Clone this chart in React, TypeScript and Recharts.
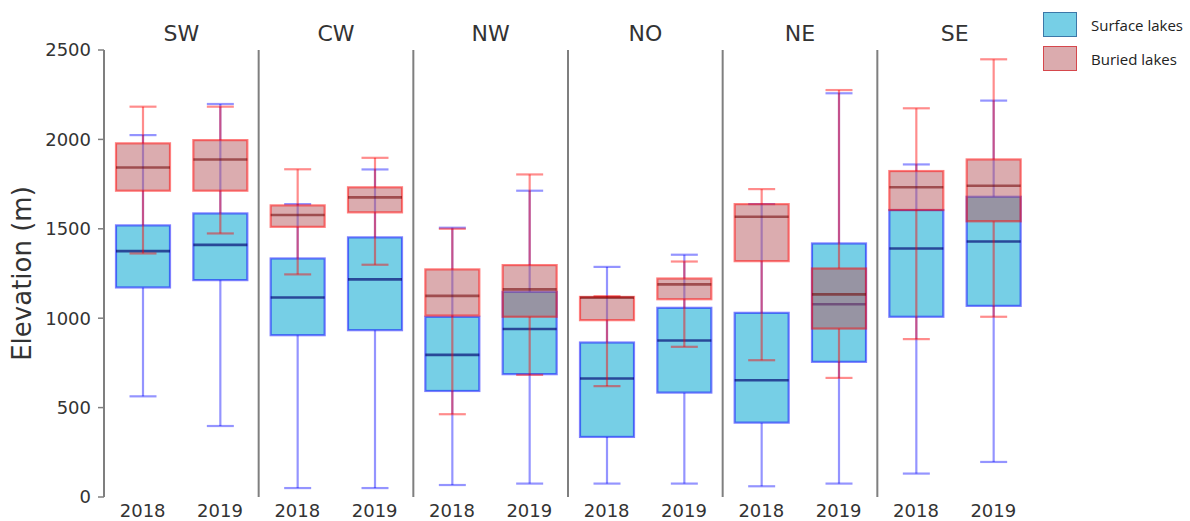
import React from 'react';
import { ComposedChart, Bar, XAxis, YAxis, ReferenceLine } from 'recharts';

const regions = ['SW', 'CW', 'NW', 'NO', 'NE', 'SE'];
const years = ['2018', '2019'];
const yTicks = [0, 500, 1000, 1500, 2000, 2500];
const dividers = [2, 4, 6, 8, 10];

// Surface lakes (order: SW18, SW19, CW18, CW19, NW18, NW19, NO18, NO19, NE18, NE19, SE18, SE19)
const surfaceMin = [563, 397, 50, 50, 67, 75, 75, 75, 60, 75, 131, 196];
const surfaceQ1 = [1172, 1213, 905, 933, 593, 687, 336, 584, 416, 756, 1008, 1069];
const surfaceMed = [1375, 1410, 1116, 1217, 795, 940, 663, 875, 653, 1078, 1390, 1429];
const surfaceQ3 = [1519, 1586, 1334, 1452, 1008, 1147, 864, 1058, 1030, 1418, 1605, 1679];
const surfaceMax = [2024, 2198, 1638, 1832, 1506, 1713, 1287, 1355, 1638, 2258, 1860, 2217];

// Buried lakes
const buriedMin = [1362, 1474, 1245, 1299, 463, 683, 620, 840, 765, 666, 883, 1008];
const buriedQ1 = [1713, 1713, 1511, 1592, 1015, 1008, 989, 1106, 1319, 942, 1605, 1542];
const buriedMed = [1843, 1888, 1577, 1676, 1125, 1161, 1115, 1189, 1567, 1133, 1732, 1741];
const buriedQ3 = [1978, 1996, 1631, 1732, 1273, 1297, 1119, 1222, 1638, 1278, 1823, 1888];
const buriedMax = [2183, 2183, 1833, 1897, 1500, 1804, 1123, 1317, 1722, 2276, 2174, 2448];

type Stats = { min: number; q1: number; med: number; q3: number; max: number };

const data = regions.flatMap((region, ri) =>
  years.map((year, yi) => {
    const i = ri * 2 + yi;
    const surface: Stats = { min: surfaceMin[i], q1: surfaceQ1[i], med: surfaceMed[i], q3: surfaceQ3[i], max: surfaceMax[i] };
    const buried: Stats = { min: buriedMin[i], q1: buriedQ1[i], med: buriedMed[i], q3: buriedQ3[i], max: buriedMax[i] };
    return {
      x: i + 0.5,
      region,
      year,
      surface,
      buried,
      surfaceRange: [surfaceMin[i], surfaceMax[i]],
      buriedRange: [buriedMin[i], buriedMax[i]],
    };
  })
);

const bottomTicks = data.map((d) => d.x);
const topTicks = regions.map((_, i) => i * 2 + 1);

type Style = { fill: string; edge: string; whisker: string; median: string };

const surfaceStyle: Style = {
  fill: '#76CFE6',
  edge: 'rgba(0,0,255,0.5)',
  whisker: 'rgba(0,0,255,0.42)',
  median: 'rgba(0,0,110,0.65)',
};
const buriedStyle: Style = {
  fill: 'rgba(183,89,95,0.5)',
  edge: 'rgba(255,0,0,0.5)',
  whisker: 'rgba(255,0,0,0.45)',
  median: 'rgba(110,0,0,0.55)',
};

function makeShape(kind: 'surface' | 'buried', st: Style) {
  return (props: any) => {
    const { x, y, width, height, payload } = props;
    const s: Stats = payload[kind];
    const top = Math.min(y, y + height);
    const bot = Math.max(y, y + height);
    const span = s.max - s.min || 1;
    const py = (v: number) => top + ((s.max - v) / span) * (bot - top);
    const cx = x + width / 2;
    const capW = width / 2;
    const sw = 2.2;
    return (
      <g>
        <line x1={cx} x2={cx} y1={py(s.max)} y2={py(s.q3)} stroke={st.whisker} strokeWidth={sw} />
        <line x1={cx} x2={cx} y1={py(s.q1)} y2={py(s.min)} stroke={st.whisker} strokeWidth={sw} />
        <line x1={cx - capW / 2} x2={cx + capW / 2} y1={py(s.max)} y2={py(s.max)} stroke={st.whisker} strokeWidth={sw} />
        <line x1={cx - capW / 2} x2={cx + capW / 2} y1={py(s.min)} y2={py(s.min)} stroke={st.whisker} strokeWidth={sw} />
        <rect x={x} y={py(s.q3)} width={width} height={py(s.q1) - py(s.q3)} fill={st.fill} stroke={st.edge} strokeWidth={sw} />
        <line x1={x} x2={x + width} y1={py(s.med)} y2={py(s.med)} stroke={st.median} strokeWidth={2.6} />
      </g>
    );
  };
}

const surfaceShape = makeShape('surface', surfaceStyle);
const buriedShape = makeShape('buried', buriedStyle);

const font = 'DejaVu Sans, sans-serif';
const axisGray = '#7f7f7f';

export default function App() {
  return (
    <div style={{ position: 'absolute', left: 0, top: 0, width: 1190, height: 521, background: '#fff', fontFamily: font }}>
      <ComposedChart width={1190} height={521} data={data} margin={{ top: 0, right: 158, bottom: 0, left: 0 }}>
        <XAxis
          xAxisId="yr"
          type="number"
          dataKey="x"
          domain={[0, 12]}
          ticks={bottomTicks}
          interval={0}
          tickFormatter={(v: number) => years[Math.floor(v) % 2]}
          height={24}
          axisLine={false}
          tickLine={false}
          tickMargin={1}
          tick={{ fontSize: 18, fill: '#333', fontFamily: font }}
        />
        <XAxis
          xAxisId="reg"
          orientation="top"
          type="number"
          dataKey="x"
          domain={[0, 12]}
          ticks={topTicks}
          interval={0}
          tickFormatter={(v: number) => regions[Math.round((v - 1) / 2)]}
          height={50}
          axisLine={false}
          tickLine={false}
          tickMargin={3}
          tick={{ fontSize: 22, fill: '#333', fontFamily: font }}
        />
        <YAxis
          domain={[0, 2500]}
          ticks={yTicks}
          interval={0}
          width={104}
          axisLine={{ stroke: axisGray, strokeWidth: 2 }}
          tickLine={{ stroke: axisGray, strokeWidth: 1.5 }}
          tickSize={6}
          tickMargin={7}
          tick={{ fontSize: 18, fill: '#333', fontFamily: font }}
          label={{
            value: 'Elevation (m)',
            angle: -90,
            position: 'insideLeft',
            offset: 22,
            style: { textAnchor: 'middle', fontSize: 26, fill: '#333', fontFamily: font },
          }}
        />
        {dividers.map((d) => (
          <ReferenceLine key={d} xAxisId="yr" x={d} stroke={axisGray} strokeWidth={2} />
        ))}
        <Bar xAxisId="yr" dataKey="surfaceRange" barSize={54} shape={surfaceShape} isAnimationActive={false} />
        <Bar xAxisId="reg" dataKey="buriedRange" barSize={54} shape={buriedShape} isAnimationActive={false} />
      </ComposedChart>
      <div style={{ position: 'absolute', left: 1043, top: 12, fontFamily: 'Open Sans, sans-serif', fontSize: 15, color: '#222' }}>
        <div style={{ display: 'flex', alignItems: 'center', height: 25 }}>
          <div style={{ width: 32, height: 23, background: '#76CFE6', border: '1.5px solid #3C78A8' }} />
          <span style={{ marginLeft: 14, whiteSpace: 'nowrap' }}>Surface lakes</span>
        </div>
        <div style={{ display: 'flex', alignItems: 'center', height: 25, marginTop: 9 }}>
          <div style={{ width: 32, height: 23, background: '#DBABAE', border: '1.5px solid #D5474C' }} />
          <span style={{ marginLeft: 14, whiteSpace: 'nowrap' }}>Buried lakes</span>
        </div>
      </div>
    </div>
  );
}
